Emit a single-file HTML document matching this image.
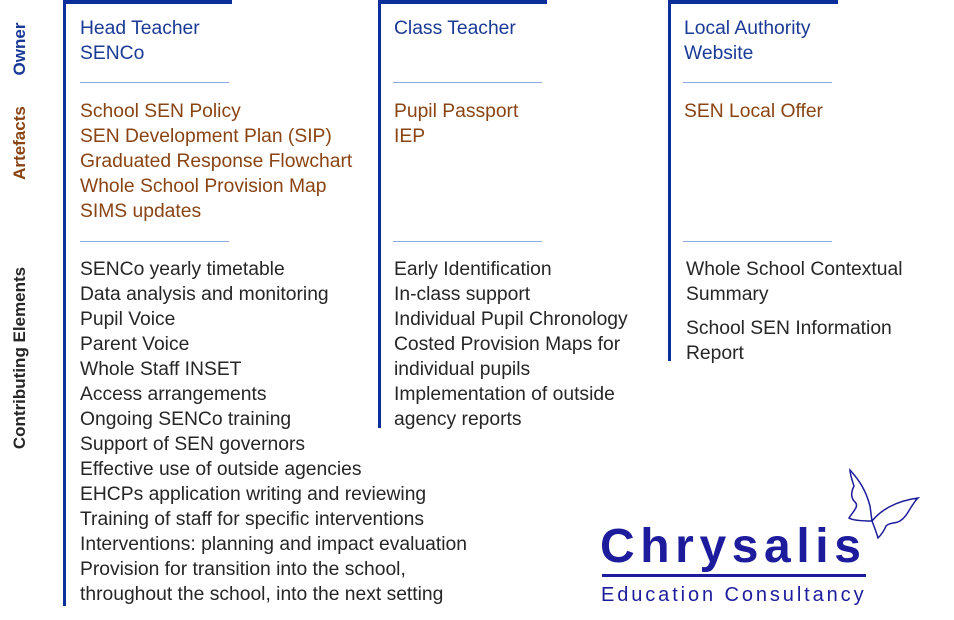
<!DOCTYPE html>
<html><head><meta charset="utf-8"><style>
body{margin:0;width:954px;height:620px;background:#fff;position:relative;overflow:hidden;font-family:"Liberation Sans",sans-serif}
.a{position:absolute;font-size:19.3px;line-height:25px;white-space:nowrap}
.o{color:#1a3a96}.r{color:#8a4414}.c{color:#262626}
.v{position:absolute;background:#0b2f9a}
.s{position:absolute;height:1px;background:#8eaadb;width:149px}
.lab{position:absolute;font-weight:bold;font-size:17px;transform:rotate(-90deg);transform-origin:center;white-space:nowrap;text-align:center}
</style></head><body>
<div class="v" style="left:63px;top:0;width:3px;height:606px"></div>
<div class="v" style="left:63px;top:0;width:169px;height:4px"></div>
<div class="v" style="left:378px;top:0;width:3px;height:428px"></div>
<div class="v" style="left:378px;top:0;width:169px;height:4px"></div>
<div class="v" style="left:668px;top:0;width:3px;height:361px"></div>
<div class="v" style="left:668px;top:0;width:170px;height:4px"></div>

<div class="lab o" style="left:-30px;top:39px;width:100px">Owner</div>
<div class="lab r" style="left:-30px;top:133px;width:100px">Artefacts</div>
<div class="lab c" style="left:-80px;top:348px;width:200px">Contributing Elements</div>

<div class="s" style="left:80px;top:82px"></div><div class="s" style="left:80px;top:241px"></div>
<div class="s" style="left:393px;top:82px"></div><div class="s" style="left:393px;top:241px"></div>
<div class="s" style="left:683px;top:82px"></div><div class="s" style="left:683px;top:241px"></div>

<div class="a o" style="left:80px;top:16px">Head Teacher<br>SENCo</div>
<div class="a r" style="left:80px;top:99px">School SEN Policy<br>SEN Development Plan (SIP)<br>Graduated Response Flowchart<br>Whole School Provision Map<br>SIMS updates</div>
<div class="a c" style="left:80px;top:257px">SENCo yearly timetable<br>Data analysis and monitoring<br>Pupil Voice<br>Parent Voice<br>Whole Staff INSET<br>Access arrangements<br>Ongoing SENCo training<br>Support of SEN governors<br>Effective use of outside agencies<br>EHCPs application writing and reviewing<br>Training of staff for specific interventions<br>Interventions: planning and impact evaluation<br>Provision for transition into the school,<br>throughout the school, into the next setting</div>

<div class="a o" style="left:394px;top:16px">Class Teacher</div>
<div class="a r" style="left:394px;top:99px">Pupil Passport<br>IEP</div>
<div class="a c" style="left:394px;top:257px">Early Identification<br>In-class support<br>Individual Pupil Chronology<br>Costed Provision Maps for<br>individual pupils<br>Implementation of outside<br>agency reports</div>

<div class="a o" style="left:684px;top:16px">Local Authority<br>Website</div>
<div class="a r" style="left:684px;top:99px">SEN Local Offer</div>
<div class="a c" style="left:686px;top:257px">Whole School Contextual<br>Summary</div>
<div class="a c" style="left:686px;top:316px">School SEN Information<br>Report</div>

<div style="position:absolute;left:600px;top:522px;font-size:48px;font-weight:bold;color:#1c1c9c;letter-spacing:5.6px;line-height:50px">Chrysalis</div>
<div style="position:absolute;left:602px;top:574px;width:264px;height:3px;background:#1c1c9c"></div>
<div style="position:absolute;left:601px;top:583px;font-size:20px;color:#1c1c9c;letter-spacing:2.9px;line-height:24px">Education Consultancy</div>
<svg style="position:absolute;left:840px;top:466px" width="85" height="80" viewBox="0 0 85 80">
<g fill="none" stroke="#1c1c9c" stroke-width="1.5">
<path d="M10 4 C20 15 26 25 30 40 L32 55 C22 55 12 54 9 52 C14 44 20 40 14 35 C10 30 12 24 14 20 C12 14 10 8 10 4Z"/>
<path d="M32 55 C40 45 55 35 78 32 C70 40 68 50 60 55 C55 58 50 56 46 60 C44 65 40 70 38 72 C36 65 34 60 32 55Z"/>
</g></svg>
</body></html>
